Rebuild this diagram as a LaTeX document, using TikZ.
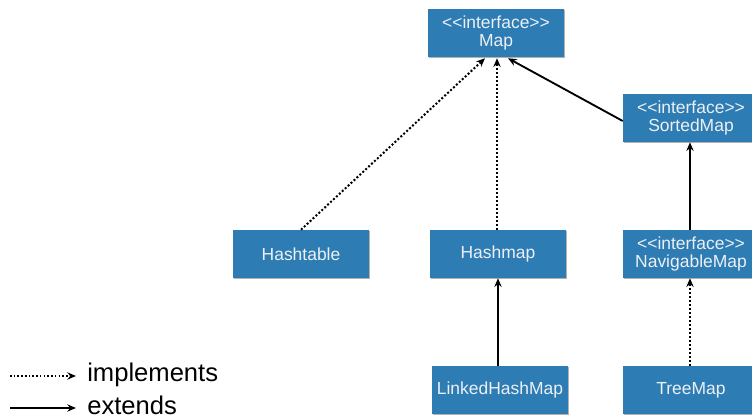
\documentclass[tikz,border=0pt]{standalone}
\usepackage{fontspec}
\setmainfont{Liberation Sans}
\usetikzlibrary{arrows.meta,shadows,calc}
\definecolor{boxblue}{RGB}{46,124,180}
\definecolor{boxtext}{RGB}{236,240,244}
\newcommand{\stereo}[1]{<{}<#1>{}>}
\tikzset{
  cls/.style={rectangle, fill=boxblue, text=boxtext,
    minimum width=102pt, minimum height=36pt, inner sep=0pt,
    align=center, font=\fontsize{13.1}{13.8}\selectfont,
    general shadow={fill=black!30, shadow xshift=0.6pt, shadow yshift=-0.9pt}},
  tipstyle/.style={-{Stealth[length=6.5pt,width=5.5pt]}},
  impl/.style={tipstyle, line width=1.5pt, dash pattern=on 1.5pt off 1.5pt},
  ext/.style={tipstyle, line width=1.4pt},
  legtext/.style={anchor=west, inner sep=0pt, font=\fontsize{19.2}{21}\selectfont}
}
\begin{document}
\begin{tikzpicture}[x=0.75pt,y=-0.75pt]
\useasboundingbox (0,0) rectangle (752,417);

% class and interface boxes
\node[cls] (map)       at (496,33)  {\stereo{interface}\\Map};
\node[cls] (sorted)    at (691,118) {\stereo{interface}\\SortedMap};
\node[cls] (hashtable) at (301,254) {Hashtable};
\node[cls] (hashmap)   at (498,254) {Hashmap};
\node[cls] (navig)     at (691,254) {\stereo{interface}\\NavigableMap};
\node[cls] (linked)    at (500,390) {LinkedHashMap};
\node[cls] (tree)      at (691,390) {TreeMap};

% relations
\draw[impl] (hashtable.north) -- ($(map.south)+(-11,1)$);
\draw[impl] (hashmap.north -| 497,0) -- ($(map.south)+(1,1)$);
\draw[ext]  ($(sorted.west)+(0,3)$) -- ($(map.south)+(12,1)$);
\draw[ext]  (navig.north -| 690,0) -- (sorted.south -| 690,0);
\draw[ext]  (linked.north -| 498,0) -- (hashmap.south -| 498,0);
\draw[impl] (tree.north -| 690,0) -- (navig.south -| 690,0);

% legend
\coordinate (ia) at (10,376);
\coordinate (ib) at (76,376);
\coordinate (ea) at (10,408);
\coordinate (eb) at (76,408);
\draw[impl, line width=1.3pt, dash pattern=on 1.2pt off 1.6pt] (ia) -- (ib);
\draw[ext] (ea) -- (eb);
\node[legtext] (limpl) at (87,375) {implements};
\node[legtext] (lext)  at (87,405) {extends};
\end{tikzpicture}
\end{document}
